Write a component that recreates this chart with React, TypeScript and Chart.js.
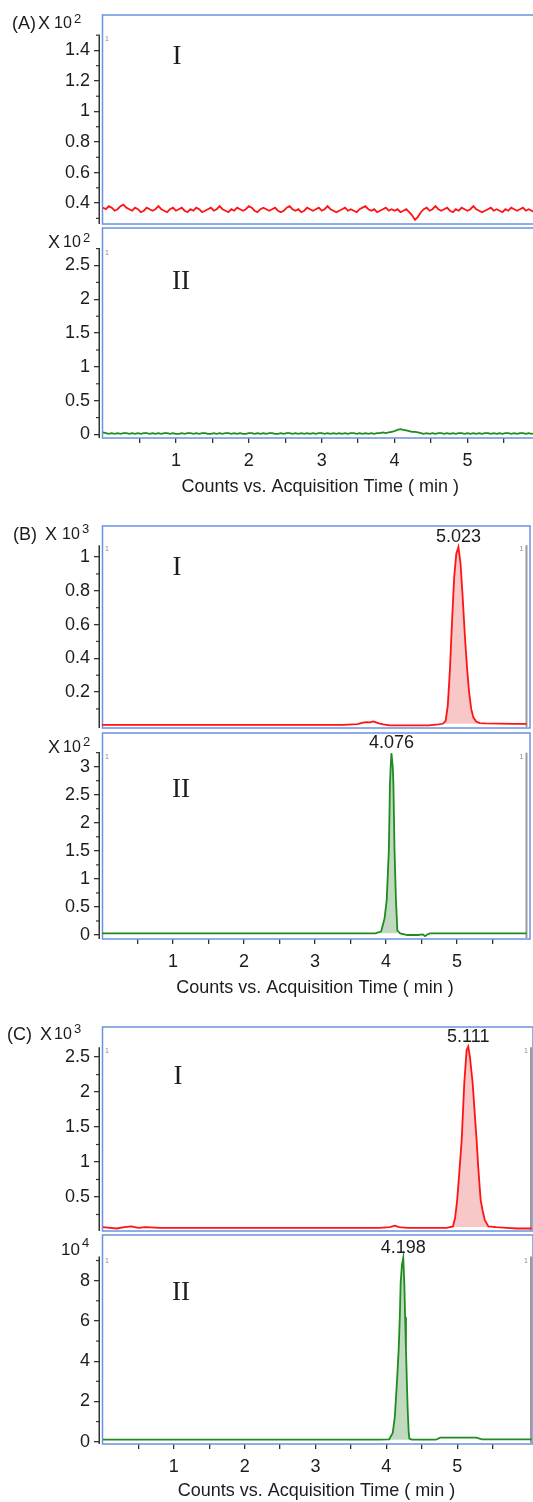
import React, { useEffect, useRef } from "react";
import { Chart, registerables } from "chart.js";
Chart.register(...registerables);

const SANS = "'Liberation Sans', Arial, Helvetica, sans-serif";
const SERIF = "'Liberation Serif', 'Times New Roman', serif";
const INK = "#1c1c1c";
const FRAME = "#6a92e0";
const RED = "#ff1414";
const GREEN = "#1f8c1f";
const PINK = "rgba(246,180,180,0.75)";
const LGREEN = "rgba(170,205,170,0.75)";

// ---------------- data ----------------
const xTickValues = [0.5, 1, 1.5, 2, 2.5, 3, 3.5, 4, 4.5, 5, 5.5];
const xAxisTitle = "Counts vs. Acquisition Time ( min )";

// (A) sampled every 0.04 min from 0 to 6.0
const aStep = 0.04;
const aRedValues = [
  0.37, 0.36, 0.38, 0.37, 0.35, 0.36, 0.38, 0.39, 0.37, 0.36,
  0.35, 0.37, 0.36, 0.34, 0.35, 0.37, 0.36, 0.35, 0.36, 0.38,
  0.36, 0.35, 0.34, 0.36, 0.37, 0.35, 0.36, 0.37, 0.35, 0.34,
  0.36, 0.35, 0.37, 0.36, 0.34, 0.35, 0.36, 0.37, 0.35, 0.36,
  0.38, 0.36, 0.35, 0.34, 0.36, 0.35, 0.37, 0.36, 0.35, 0.36,
  0.38, 0.37, 0.35, 0.34, 0.36, 0.37, 0.36, 0.35, 0.36, 0.37,
  0.35, 0.34, 0.35, 0.37, 0.38, 0.36, 0.35, 0.36, 0.34, 0.35,
  0.37, 0.36, 0.35, 0.36, 0.37, 0.35, 0.36, 0.38, 0.36, 0.35,
  0.34, 0.35, 0.36, 0.37, 0.35, 0.36, 0.35, 0.34, 0.36, 0.37,
  0.38, 0.36, 0.35, 0.36, 0.34, 0.35, 0.36, 0.37, 0.35, 0.36,
  0.35, 0.36, 0.34, 0.35, 0.36, 0.34, 0.32, 0.29, 0.31, 0.34,
  0.36, 0.37, 0.35, 0.36, 0.38, 0.36, 0.35, 0.36, 0.37, 0.35,
  0.34, 0.36, 0.35, 0.37, 0.36, 0.35, 0.36, 0.38, 0.36, 0.35,
  0.34, 0.35, 0.36, 0.37, 0.35, 0.36, 0.35, 0.34, 0.36, 0.35,
  0.37, 0.36, 0.35, 0.36, 0.37, 0.35, 0.36, 0.35, 0.34, 0.36,
  0.35,
];
const aGreenValues = [
  0.03, 0.02, 0.01, 0.02, 0.01, 0.02, 0.01, 0.02, 0.02, 0.01,
  0.02, 0.01, 0.02, 0.01, 0.02, 0.02, 0.01, 0.02, 0.01, 0.02,
  0.01, 0.02, 0.02, 0.01, 0.02, 0.01, 0.01, 0.02, 0.01, 0.02,
  0.02, 0.01, 0.02, 0.01, 0.02, 0.02, 0.01, 0.01, 0.02, 0.01,
  0.02, 0.01, 0.02, 0.02, 0.01, 0.02, 0.01, 0.02, 0.01, 0.01,
  0.02, 0.02, 0.01, 0.02, 0.01, 0.02, 0.01, 0.02, 0.02, 0.01,
  0.01, 0.02, 0.01, 0.02, 0.02, 0.01, 0.02, 0.01, 0.02, 0.01,
  0.02, 0.01, 0.02, 0.01, 0.02, 0.02, 0.01, 0.02, 0.01, 0.02,
  0.01, 0.02, 0.01, 0.02, 0.01, 0.02, 0.02, 0.01, 0.02, 0.01,
  0.02, 0.01, 0.02, 0.01, 0.02, 0.02, 0.03, 0.02, 0.03, 0.04,
  0.05, 0.07, 0.08, 0.07, 0.06, 0.05, 0.04, 0.04, 0.03, 0.02,
  0.01, 0.02, 0.01, 0.02, 0.01, 0.02, 0.02, 0.01, 0.02, 0.01,
  0.02, 0.01, 0.02, 0.02, 0.01, 0.02, 0.01, 0.02, 0.01, 0.02,
  0.01, 0.02, 0.02, 0.01, 0.02, 0.01, 0.02, 0.01, 0.02, 0.02,
  0.01, 0.02, 0.01, 0.02, 0.02, 0.01, 0.02, 0.01, 0.02, 0.01,
  0.02,
];
const aTimes = aRedValues.map((_, i) => Math.round(i * aStep * 100) / 100);

// (B) I : x10^3 counts
const bRedTimes = [0, 0.5, 1.0, 1.5, 2.0, 2.5, 3.0, 3.4, 3.6, 3.66, 3.72, 3.78, 3.82, 3.86, 3.9, 3.96, 4.05, 4.2, 4.4, 4.6, 4.74, 4.8, 4.84, 4.87, 4.9, 4.93, 4.96, 4.99, 5.02, 5.05, 5.08, 5.11, 5.14, 5.17, 5.2, 5.23, 5.27, 5.32, 5.4, 5.6, 5.8, 5.98];
const bRedValues = [0.006, 0.005, 0.006, 0.005, 0.006, 0.005, 0.006, 0.006, 0.01, 0.018, 0.022, 0.02, 0.026, 0.02, 0.014, 0.008, 0.003, 0.002, 0.002, 0.003, 0.008, 0.012, 0.03, 0.12, 0.33, 0.62, 0.88, 1.02, 1.06, 0.96, 0.76, 0.54, 0.35, 0.2, 0.1, 0.05, 0.025, 0.016, 0.014, 0.013, 0.012, 0.012];
// (B) II : x10^2 counts
const bGreenTimes = [0, 0.5, 1.0, 1.5, 2.0, 2.5, 3.0, 3.5, 3.85, 3.93, 3.95, 3.98, 4.01, 4.04, 4.056, 4.066, 4.076, 4.095, 4.104, 4.12, 4.14, 4.16, 4.2, 4.3, 4.45, 4.52, 4.55, 4.58, 4.62, 4.8, 5.2, 5.6, 5.98];
const bGreenValues = [0.03, 0.03, 0.03, 0.03, 0.03, 0.03, 0.03, 0.03, 0.03, 0.06, 0.15, 0.3, 0.62, 1.51, 2.7, 3.0, 3.24, 3.0, 2.7, 1.51, 0.62, 0.08, 0.03, 0.0, 0.0, 0.01, -0.02, 0.01, 0.03, 0.03, 0.03, 0.03, 0.03];

// (C) I : x10^3 counts
const cRedTimes = [0, 0.1, 0.2, 0.3, 0.4, 0.5, 0.6, 0.8, 1.0, 1.5, 2.0, 2.5, 3.0, 3.5, 3.9, 4.05, 4.12, 4.18, 4.3, 4.6, 4.85, 4.94, 4.97, 5.0, 5.03, 5.063, 5.1, 5.133, 5.156, 5.18, 5.218, 5.246, 5.274, 5.3, 5.331, 5.36, 5.39, 5.44, 5.55, 5.7, 5.85, 6.05];
const cRedValues = [0.07, 0.06, 0.05, 0.07, 0.08, 0.06, 0.07, 0.06, 0.06, 0.06, 0.06, 0.06, 0.06, 0.06, 0.06, 0.07, 0.09, 0.07, 0.06, 0.06, 0.06, 0.08, 0.2, 0.46, 0.85, 1.31, 2.13, 2.6, 2.65, 2.5, 2.13, 1.72, 1.31, 0.88, 0.46, 0.3, 0.17, 0.08, 0.07, 0.06, 0.05, 0.05];
// (C) II : x10^4 counts
const cGreenTimes = [0, 0.5, 1, 1.5, 2, 2.5, 3, 3.5, 3.9, 4.04, 4.09, 4.12, 4.15, 4.174, 4.19, 4.202, 4.22, 4.239, 4.253, 4.265, 4.277, 4.29, 4.302, 4.315, 4.325, 4.36, 4.5, 4.7, 4.76, 5.0, 5.27, 5.35, 5.6, 5.8, 6.05];
const cGreenValues = [0.1, 0.1, 0.1, 0.1, 0.1, 0.1, 0.1, 0.1, 0.1, 0.12, 0.43, 1.26, 3.0, 4.58, 6.2, 7.9, 8.8, 9.15, 7.9, 6.2, 4.58, 2.9, 1.5, 0.5, 0.15, 0.1, 0.1, 0.1, 0.2, 0.2, 0.2, 0.12, 0.12, 0.12, 0.12];

const yMajorAI = [0.4, 0.6, 0.8, 1, 1.2, 1.4];
const yMinorAI = [0.3, 0.5, 0.7, 0.9, 1.1, 1.3, 1.5];
const yMajorAII = [0, 0.5, 1, 1.5, 2, 2.5];
const yMinorAII = [0.25, 0.75, 1.25, 1.75, 2.25, 2.75];
const yMajorBI = [0.2, 0.4, 0.6, 0.8, 1];
const yMinorBI = [0.1, 0.3, 0.5, 0.7, 0.9];
const yMajorBII = [0, 0.5, 1, 1.5, 2, 2.5, 3];
const yMinorBII = [0.25, 0.75, 1.25, 1.75, 2.25, 2.75, 3.25];
const yMajorCI = [0.5, 1, 1.5, 2, 2.5];
const yMinorCI = [0.25, 0.75, 1.25, 1.75, 2.25];
const yMajorCII = [0, 2, 4, 6, 8];
const yMinorCII = [1, 3, 5, 7, 9];

// ---------------- layout ----------------
const PADT = 26;
const PADB = 26;
const AXIS_W = 100;

type Panel = {
  frameTop: number; frameBottom: number; width: number; right: number;
  xMin: number; xMax: number; yMin: number; yMax: number; axisMax: number;
  yMajor: number[]; yMinor: number[];
  times: number[]; values: number[]; color: string;
  fillColor?: string; fillFrom?: number; fillTo?: number; fillBase?: number;
  roman: string; romanX: number; romanY: number;
  peakLabel?: string; peakTime?: number; peakValue?: number;
  showX: boolean; titleY?: number; rightLine?: number;
};

const panels: Panel[] = [
  {
    frameTop: 14.5, frameBottom: 224, width: 545, right: 540.4,
    xMin: -0.041, xMax: 6.0, yMin: 0.263, yMax: 1.632, axisMax: 1.5,
    yMajor: yMajorAI, yMinor: yMinorAI, times: aTimes, values: aRedValues, color: RED,
    roman: "I", romanX: 177, romanY: 54, showX: false,
  },
  {
    frameTop: 228, frameBottom: 438, width: 545, right: 540.4,
    xMin: -0.041, xMax: 6.0, yMin: -0.052, yMax: 3.055, axisMax: 2.75,
    yMajor: yMajorAII, yMinor: yMinorAII, times: aTimes, values: aGreenValues, color: GREEN,
    roman: "II", romanX: 181, romanY: 280, showX: true, titleY: 487,
  },
  {
    frameTop: 526, frameBottom: 728, width: 533, right: 530,
    xMin: -0.028, xMax: 6.028, yMin: -0.013, yMax: 1.184, axisMax: 1.07,
    yMajor: yMajorBI, yMinor: yMinorBI, times: bRedTimes, values: bRedValues, color: RED,
    fillColor: PINK, fillFrom: 4.8, fillTo: 5.32, fillBase: 0.012,
    roman: "I", romanX: 177, romanY: 566, peakLabel: "5.023", peakTime: 5.02, peakValue: 1.06,
    showX: false, rightLine: 526.5,
  },
  {
    frameTop: 733, frameBottom: 939, width: 533, right: 530,
    xMin: -0.028, xMax: 6.028, yMin: -0.071, yMax: 3.6, axisMax: 3.25,
    yMajor: yMajorBII, yMinor: yMinorBII, times: bGreenTimes, values: bGreenValues, color: GREEN,
    fillColor: LGREEN, fillFrom: 3.93, fillTo: 4.16, fillBase: 0.03,
    roman: "II", romanX: 181, romanY: 788, peakLabel: "4.076", peakTime: 4.076, peakValue: 3.24,
    showX: true, titleY: 988, rightLine: 526.5,
  },
  {
    frameTop: 1027, frameBottom: 1231, width: 535, right: 533,
    xMin: -0.042, xMax: 6.07, yMin: 0.014, yMax: 2.93, axisMax: 2.64,
    yMajor: yMajorCI, yMinor: yMinorCI, times: cRedTimes, values: cRedValues, color: RED,
    fillColor: PINK, fillFrom: 4.94, fillTo: 5.44, fillBase: 0.07,
    roman: "I", romanX: 178, romanY: 1075, peakLabel: "5.111", peakTime: 5.156, peakValue: 2.65,
    showX: false, rightLine: 531,
  },
  {
    frameTop: 1235, frameBottom: 1444, width: 535, right: 533,
    xMin: -0.042, xMax: 6.07, yMin: -0.114, yMax: 10.27, axisMax: 9.2,
    yMajor: yMajorCII, yMinor: yMinorCII, times: cGreenTimes, values: cGreenValues, color: GREEN,
    fillColor: LGREEN, fillFrom: 4.04, fillTo: 4.325, fillBase: 0.1,
    roman: "II", romanX: 181, romanY: 1291, peakLabel: "4.198", peakTime: 4.239, peakValue: 9.15,
    showX: true, titleY: 1491, rightLine: 531,
  },
];

function geom(p: Panel) {
  const canvasTop = p.frameTop - PADT;
  const plotH = p.frameBottom - p.frameTop;
  const xAxisH = p.showX ? (p.titleY as number) + 11 - p.frameBottom : 0;
  const height = PADT + plotH + (p.showX ? xAxisH : PADB);
  return { canvasTop, height, xAxisH };
}

function fmt(v: number) {
  return String(Math.round(v * 100) / 100);
}

function decor(p: Panel, canvasTop: number) {
  return {
    id: "decor",
    beforeDatasetsDraw(chart: any) {
      const { ctx, chartArea: ca } = chart;
      ctx.save();
      ctx.strokeStyle = FRAME;
      ctx.lineWidth = 1.5;
      ctx.strokeRect(ca.left + 2.5, ca.top, ca.right - ca.left - 2.5, ca.bottom - ca.top);
      if (p.rightLine) {
        const yTop = chart.scales.y.getPixelForValue(p.axisMax);
        ctx.strokeStyle = "#9a9a9a";
        ctx.lineWidth = 2;
        ctx.beginPath();
        ctx.moveTo(p.rightLine, yTop);
        ctx.lineTo(p.rightLine, ca.bottom - 1);
        ctx.stroke();
      }
      ctx.restore();
    },
    afterDraw(chart: any) {
      const { ctx, chartArea: ca, scales } = chart;
      const y = scales.y;
      const x = scales.x;
      const yTop = y.getPixelForValue(p.axisMax);
      ctx.save();
      ctx.strokeStyle = "#333";
      ctx.lineWidth = 1.5;
      ctx.beginPath();
      ctx.moveTo(ca.left - 0.75, yTop);
      ctx.lineTo(ca.left - 0.75, ca.bottom);
      ctx.stroke();
      ctx.lineWidth = 1.2;
      for (const v of p.yMinor) {
        const py = y.getPixelForValue(v);
        ctx.beginPath();
        ctx.moveTo(ca.left - 4, py);
        ctx.lineTo(ca.left, py);
        ctx.stroke();
      }
      ctx.fillStyle = "#8a8a8a";
      ctx.font = `7px ${SANS}`;
      ctx.textAlign = "left";
      ctx.textBaseline = "alphabetic";
      ctx.fillText("1", ca.left + 5, yTop + 6);
      if (p.rightLine) ctx.fillText("1", p.rightLine - 7, yTop + 6);
      ctx.fillStyle = INK;
      ctx.font = `27px ${SERIF}`;
      ctx.textAlign = "center";
      ctx.fillText(p.roman, p.romanX, p.romanY - canvasTop + 9);
      if (p.peakLabel && p.peakTime !== undefined && p.peakValue !== undefined) {
        ctx.font = `18px ${SANS}`;
        ctx.fillText(p.peakLabel, x.getPixelForValue(p.peakTime), y.getPixelForValue(p.peakValue) - 5);
      }
      ctx.restore();
    },
  };
}

function buildConfig(p: Panel, canvasTop: number, xAxisH: number): any {
  const main = p.times.map((t, i) => ({ x: t, y: p.values[i] }));
  const datasets: any[] = [
    { data: main, borderColor: p.color, borderWidth: 1.8, pointRadius: 0, fill: false, tension: 0 },
  ];
  if (p.fillColor) {
    const pts = main.filter((d) => d.x >= (p.fillFrom as number) && d.x <= (p.fillTo as number));
    datasets.push({
      data: pts, borderWidth: 0, borderColor: "rgba(0,0,0,0)", pointRadius: 0,
      backgroundColor: p.fillColor, fill: { value: p.fillBase }, tension: 0,
    });
  }
  return {
    type: "line",
    data: { datasets },
    options: {
      animation: false,
      responsive: false,
      maintainAspectRatio: false,
      events: [],
      layout: { padding: { top: PADT, bottom: p.showX ? 0 : PADB, left: 0, right: p.width - p.right } },
      plugins: { legend: { display: false }, tooltip: { enabled: false }, title: { display: false } },
      scales: {
        x: {
          type: "linear",
          min: p.xMin,
          max: p.xMax,
          display: p.showX,
          afterBuildTicks: (s: any) => { s.ticks = xTickValues.map((v) => ({ value: v })); },
          afterFit: (s: any) => { s.height = xAxisH; },
          border: { display: false },
          grid: { drawOnChartArea: false, drawTicks: true, tickLength: 5, color: "#333", lineWidth: 1.3 },
          ticks: {
            padding: 7.5,
            color: INK,
            font: { family: SANS, size: 18 },
            maxRotation: 0,
            autoSkip: false,
            callback: (v: any) => (Number.isInteger(v) ? String(v) : ""),
          },
          title: {
            display: true,
            text: xAxisTitle,
            color: INK,
            font: { family: SANS, size: 18 },
            padding: { top: 0, bottom: 0 },
          },
        },
        y: {
          type: "linear",
          min: p.yMin,
          max: p.yMax,
          afterBuildTicks: (s: any) => { s.ticks = p.yMajor.map((v) => ({ value: v })); },
          afterFit: (s: any) => { s.width = AXIS_W; },
          border: { display: false },
          grid: { drawOnChartArea: false, drawTicks: true, tickLength: 6, color: "#333", lineWidth: 1.3 },
          ticks: {
            padding: 4,
            color: INK,
            font: { family: SANS, size: 18 },
            autoSkip: false,
            callback: (v: any) => fmt(Number(v)),
          },
        },
      },
    },
    plugins: [decor(p, canvasTop)],
  };
}

function PanelChart({ p }: { p: Panel }) {
  const ref = useRef<HTMLCanvasElement | null>(null);
  const g = geom(p);
  useEffect(() => {
    if (!ref.current) return;
    const chart = new Chart(ref.current, buildConfig(p, g.canvasTop, g.xAxisH));
    return () => chart.destroy();
  }, []);
  return (
    <canvas
      ref={ref}
      width={p.width}
      height={g.height}
      style={{ position: "absolute", left: 0, top: g.canvasTop, width: p.width, height: g.height }}
    />
  );
}

type Lbl = { x: number; b: number; s: number; t: string };
const cornerLabels: Lbl[] = [
  { x: 12, b: 29, s: 18, t: "(A)" }, { x: 38, b: 29, s: 18, t: "X" }, { x: 54, b: 29, s: 16, t: "10" }, { x: 74, b: 23, s: 13, t: "2" },
  { x: 48, b: 248, s: 18, t: "X" }, { x: 63, b: 248, s: 16, t: "10" }, { x: 83, b: 242, s: 13, t: "2" },
  { x: 13, b: 540, s: 18, t: "(B)" }, { x: 45, b: 540, s: 18, t: "X" }, { x: 62, b: 540, s: 16, t: "10" }, { x: 82, b: 533, s: 13, t: "3" },
  { x: 48, b: 753, s: 18, t: "X" }, { x: 63, b: 753, s: 16, t: "10" }, { x: 83, b: 746, s: 13, t: "2" },
  { x: 7, b: 1040, s: 18, t: "(C)" }, { x: 40, b: 1040, s: 18, t: "X" }, { x: 54, b: 1040, s: 16, t: "10" }, { x: 74, b: 1033, s: 13, t: "3" },
  { x: 61, b: 1255, s: 17, t: "10" }, { x: 82, b: 1247, s: 13, t: "4" },
];

export default function App() {
  return (
    <div style={{ position: "absolute", left: 0, top: 0, width: 533, height: 1502, overflow: "hidden", background: "#fff" }}>
      {panels.map((p, i) => (
        <PanelChart key={i} p={p} />
      ))}
      {cornerLabels.map((l, i) => (
        <div
          key={"l" + i}
          style={{
            position: "absolute",
            left: l.x,
            top: l.b - l.s * 0.5 - 0.3465 * l.s,
            fontFamily: SANS,
            fontSize: l.s,
            lineHeight: `${l.s}px`,
            color: INK,
            whiteSpace: "nowrap",
          }}
        >
          {l.t}
        </div>
      ))}
    </div>
  );
}
